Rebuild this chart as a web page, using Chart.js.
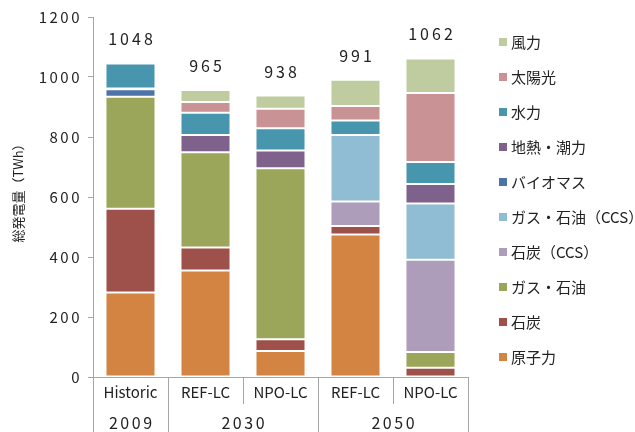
<!DOCTYPE html>
<html>
<head>
<meta charset="utf-8">
<script src="https://cdn.jsdelivr.net/npm/chart.js@4/dist/chart.umd.min.js"></script>
<style>
  html, body { margin: 0; padding: 0; background: #fff; }
  #wrap { width: 635px; height: 432px; }
</style>
</head>
<body>
<div id="wrap"><canvas id="bar_chart" width="635" height="432"></canvas></div>
<script>
// 시나리오 / 연도
const scenarios = ['Historic', 'REF-LC', 'NPO-LC', 'REF-LC', 'NPO-LC'];
const years = ['2009', '2030', '2030', '2050', '2050'];
const totals = [1048, 965, 938, 991, 1062];

// 電源別 発電量 (TWh), 下から順
const nuclear   = [282, 355, 87, 475, 0];
const coal      = [279, 77, 39, 28, 31];
const gasOil    = [373, 317, 570, 0, 52];
const coalCcs   = [0, 0, 0, 82, 308];
const gasOilCcs = [0, 0, 0, 222, 187];
const biomass   = [25, 0, 0, 0, 0];
const geo       = [3, 58, 59, 0, 65];
const hydro     = [83, 74, 74, 48, 74];
const solar     = [1, 36, 65, 48, 230];
const wind      = [2, 40, 44, 88, 115];

const yTicks = [0, 200, 400, 600, 800, 1000, 1200];
const yTitle = '総発電量（TWh）';

const FONT = '"Noto Sans CJK JP", "Noto Sans", sans-serif';

const series = [
    { label: '原子力', data: nuclear, color: '#D38443' },
    { label: '石炭', data: coal, color: '#9E504B' },
    { label: 'ガス・石油', data: gasOil, color: '#9BA65A' },
    { label: '石炭（CCS）', data: coalCcs, color: '#AD9DBA' },
    { label: 'ガス・石油（CCS）', data: gasOilCcs, color: '#90BDD3' },
    { label: 'バイオマス', data: biomass, color: '#4C74A6' },
    { label: '地熱・潮力', data: geo, color: '#7E628C' },
    { label: '水力', data: hydro, color: '#4896AE' },
    { label: '太陽光', data: solar, color: '#C99294' },
    { label: '風力', data: wind, color: '#BFCC9F' }
];

let extras = {
    id: 'extras',
    beforeDraw: function (chart) {
        // 숫자 자간
        chart.ctx.letterSpacing = '2.5px';
    },
    afterDraw: function (chart) {
        let ctx = chart.ctx;
        let x = chart.scales.x;
        let y = chart.scales.y;
        let area = chart.chartArea;

        ctx.save();

        // totals above bars
        ctx.font = '16px ' + FONT;
        ctx.letterSpacing = '3px';
        ctx.fillStyle = '#222';
        ctx.textAlign = 'center';
        ctx.textBaseline = 'middle';
        totals.forEach(function (t, i) {
            let sum = 0;
            series.forEach(function (s) { sum += s.data[i]; });
            ctx.fillText(String(t), x.getPixelForValue(i) + 1.5, y.getPixelForValue(sum) - 24);
        });

        // x labels, two rows
        ctx.letterSpacing = '0px';
        ctx.font = '15px ' + FONT;
        ctx.fillStyle = '#222';
        scenarios.forEach(function (s, i) {
            ctx.fillText(s, x.getPixelForValue(i), area.bottom + 15);
        });
        ctx.font = '16px ' + FONT;
        ctx.letterSpacing = '2.5px';
        let start = 0;
        for (let i = 1; i <= years.length; i++) {
            if (i === years.length || years[i] !== years[start]) {
                let cx = (x.getPixelForValue(start) + x.getPixelForValue(i - 1)) / 2;
                ctx.fillText(years[start], cx + 1.25, area.bottom + 46);
                start = i;
            }
        }

        // separators
        let half = (x.getPixelForValue(1) - x.getPixelForValue(0)) / 2;
        ctx.strokeStyle = '#A6A6A6';
        ctx.lineWidth = 1;
        for (let i = 0; i <= years.length; i++) {
            let px = Math.round(x.getPixelForValue(Math.min(i, years.length - 1)) + (i === years.length ? half : -half)) + 0.5;
            let full = i === 0 || i === years.length || years[i] !== years[i - 1];
            ctx.beginPath();
            ctx.moveTo(px, area.bottom);
            ctx.lineTo(px, full ? chart.height : area.bottom + 27);
            ctx.stroke();
        }

        // y title
        ctx.letterSpacing = '0px';
        ctx.font = '13px ' + FONT;
        ctx.save();
        ctx.translate(18, (area.top + area.bottom) / 2 - 7);
        ctx.rotate(-Math.PI / 2);
        ctx.fillText(yTitle, 0, 0);
        ctx.restore();

        // legend, reversed
        ctx.font = '15px ' + FONT;
        ctx.textAlign = 'left';
        ctx.fillStyle = '#222';
        series.slice().reverse().forEach(function (s, i) {
            let ly = 42 + i * 35;
            ctx.fillStyle = s.color;
            ctx.fillRect(499, ly - 4, 8, 8);
            ctx.fillStyle = '#222';
            ctx.fillText(s.label, 511, ly);
        });

        ctx.restore();
    }
};

let ctx = document.getElementById('bar_chart').getContext('2d');
let myChart = new Chart(ctx, {
    type: 'bar',
    data: {
        labels: scenarios,
        datasets: series.map(function (s) {
            return {
                label: s.label,
                data: s.data,
                backgroundColor: s.color,
                borderColor: 'rgba(255, 255, 255, 0.45)',
                borderWidth: function (c) { return c.raw ? 1 : 0; },
                borderSkipped: false,
                barPercentage: 0.667,
                categoryPercentage: 1
            };
        })
    },
    options: {
        responsive: false,
        animation: false,
        layout: { padding: { left: 0, right: 167, top: 17, bottom: 0 } },
        plugins: {
            legend: { display: false },
            tooltip: { enabled: false }
        },
        scales: {
            x: {
                stacked: true,
                grid: { display: false },
                border: { display: true, color: '#A6A6A6' },
                ticks: { display: false },
                afterFit: function (scale) { scale.height = 55; }
            },
            y: {
                stacked: true,
                min: 0,
                max: 1200,
                afterBuildTicks: function (scale) {
                    scale.ticks = yTicks.map(function (v) { return { value: v }; });
                },
                grid: { drawOnChartArea: false, tickLength: 5, color: '#A6A6A6' },
                border: { display: true, color: '#A6A6A6' },
                ticks: {
                    padding: 6,
                    color: '#222',
                    font: { family: FONT, size: 15 },
                    callback: function (v) { return String(v); }
                },
                title: { display: false },
                afterFit: function (scale) { scale.width = 93; }
            }
        }
    },
    plugins: [extras]
});
</script>
</body>
</html>
